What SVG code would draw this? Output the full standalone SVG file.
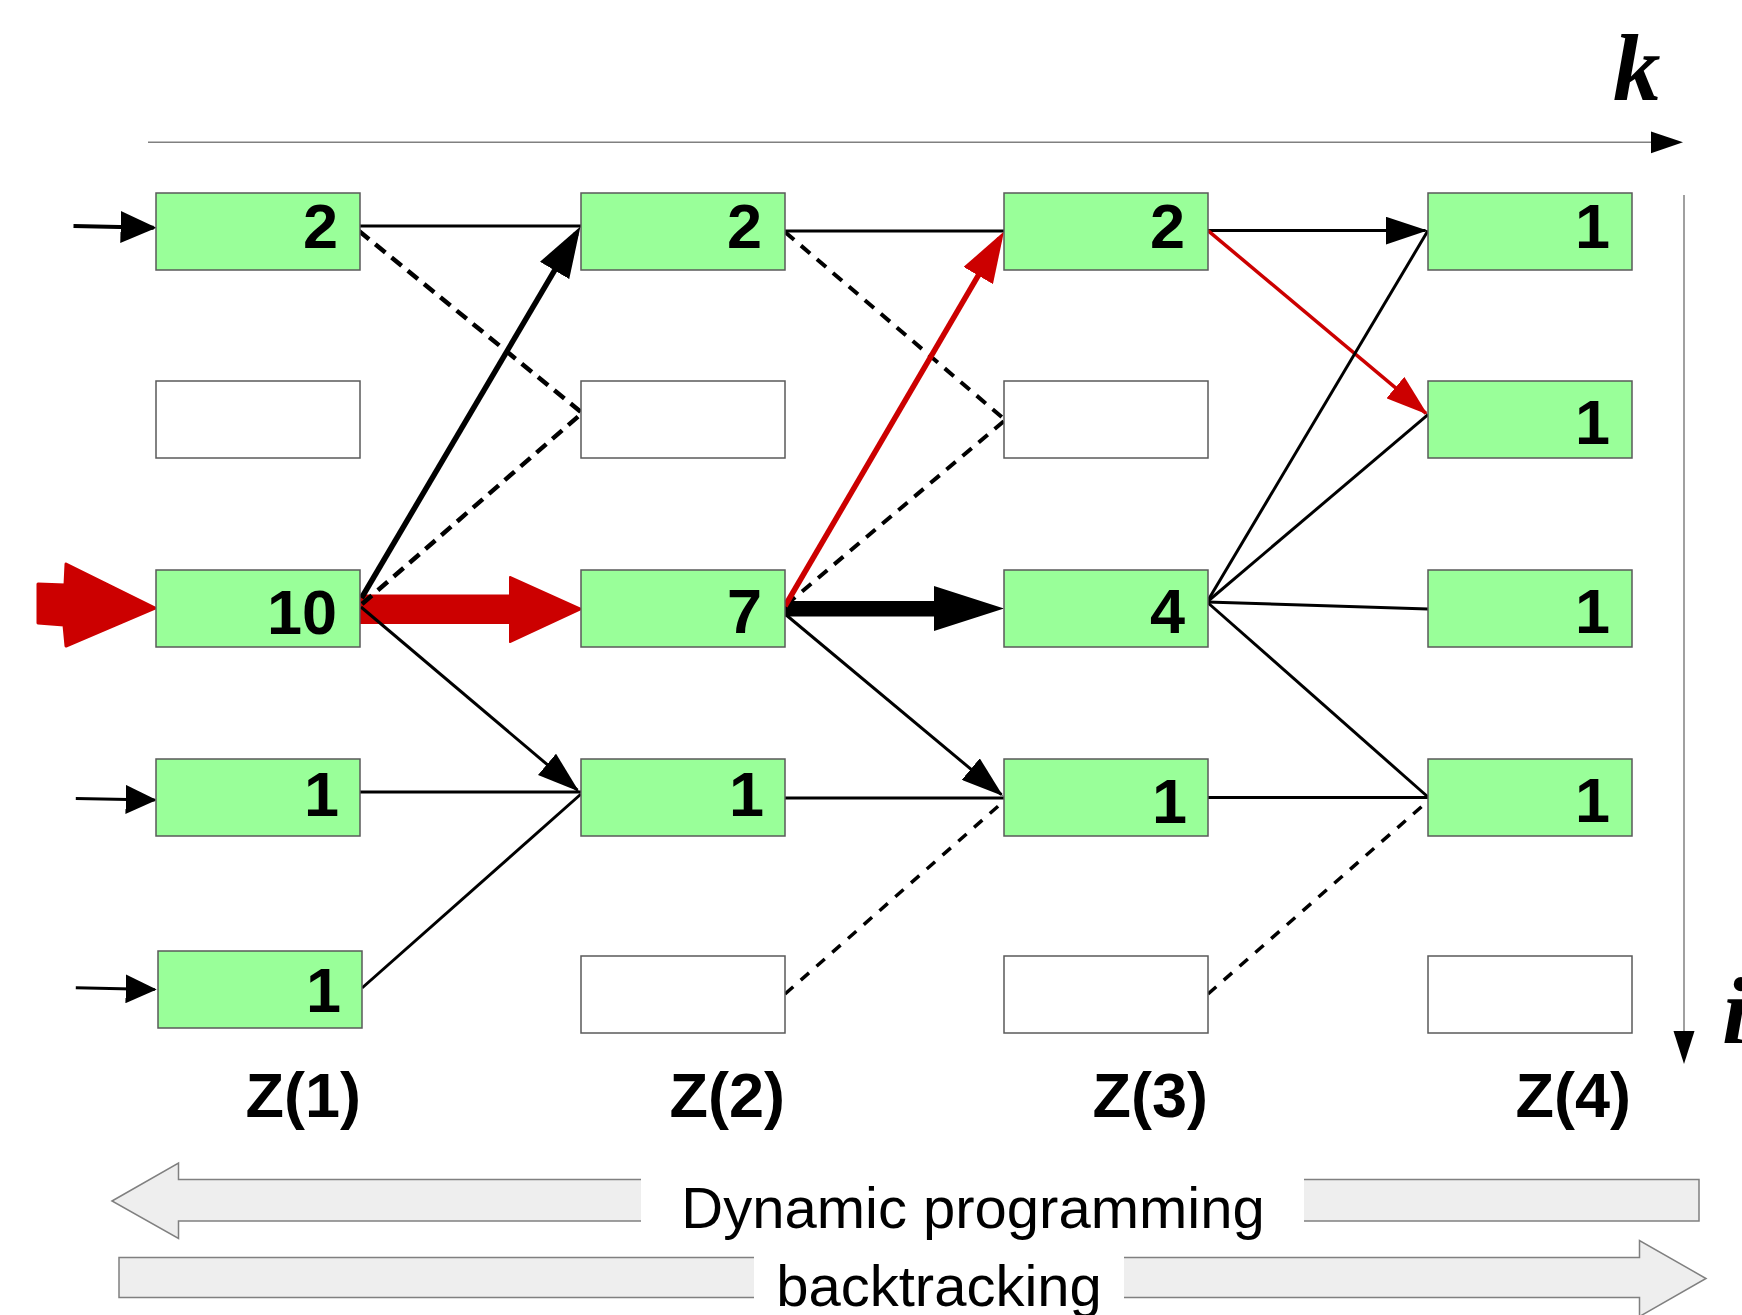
<svg xmlns="http://www.w3.org/2000/svg" width="1742" height="1315" viewBox="0 0 1742 1315">
<style>
.box{stroke:#5a5a5a;stroke-width:1.5}
.on{fill:#99ff99}
.off{fill:#ffffff}
.num{font-family:"Liberation Sans",Arial,sans-serif;font-weight:bold;font-size:63px;fill:#000;text-anchor:end}
.zl{font-family:"Liberation Sans",Arial,sans-serif;font-weight:bold;font-size:63px;fill:#000;text-anchor:end}
.ax{font-family:"Liberation Serif","Times New Roman",serif;font-weight:bold;font-style:italic;font-size:95px;fill:#000}
.lbl{font-family:"Liberation Sans",Arial,sans-serif;font-size:58px;fill:#000;text-anchor:middle}
.s{stroke:#000;stroke-width:3;fill:none}
.sr{stroke:#cc0000;stroke-width:3.5;fill:none}
.t{stroke:#000;stroke-width:5.5;fill:none}
.tr{stroke:#cc0000;stroke-width:5.5;fill:none}
.d{stroke:#000;stroke-width:4.5;fill:none;stroke-dasharray:13 8}
.d2{stroke:#000;stroke-width:4;fill:none;stroke-dasharray:12 9}
.d3{stroke:#000;stroke-width:3.5;fill:none;stroke-dasharray:11 10}
.axis{stroke:#808080;stroke-width:1.5;fill:none}
.blk{fill:#eeeeee;stroke:#808080;stroke-width:1.5}
</style>
<defs>
<marker id="a" markerUnits="userSpaceOnUse" markerWidth="42" markerHeight="28" refX="40" refY="14" orient="auto"><path d="M0,0 L42,14 L0,28 z" fill="#000"/></marker>
<marker id="ar" markerUnits="userSpaceOnUse" markerWidth="42" markerHeight="28" refX="40" refY="14" orient="auto"><path d="M0,0 L42,14 L0,28 z" fill="#cc0000"/></marker>
<marker id="at" markerUnits="userSpaceOnUse" markerWidth="51" markerHeight="34" refX="43" refY="17" orient="auto"><path d="M0,0 L51,17 L0,34 z" fill="#000"/></marker>
<marker id="atr" markerUnits="userSpaceOnUse" markerWidth="51" markerHeight="34" refX="43" refY="17" orient="auto"><path d="M0,0 L51,17 L0,34 z" fill="#cc0000"/></marker>
<marker id="e1" markerUnits="userSpaceOnUse" markerWidth="36" markerHeight="32" refX="33" refY="16" orient="auto"><path d="M0,0 L36,16 L0,32 z" fill="#000"/></marker>
<marker id="e2" markerUnits="userSpaceOnUse" markerWidth="31" markerHeight="29" refX="29" refY="14.5" orient="auto"><path d="M0,0 L31,14.5 L0,29 z" fill="#000"/></marker>
</defs>
<rect width="1742" height="1315" fill="#ffffff"/>

<g id="axes">
<line class="axis" x1="148" y1="142.3" x2="1652" y2="142.3"/>
<polygon points="1651,131.5 1683,142.3 1651,153.3" fill="#000"/>
<text class="ax" x="1613" y="100">k</text>
<line class="axis" x1="1684" y1="195" x2="1684" y2="1032"/>
<polygon points="1673.5,1031 1694.5,1031 1684,1064" fill="#000"/>
<text class="ax" x="1722" y="1043">i</text>
</g>

<g id="big-arrows">
<polygon points="38,584 65,585 66,564 155,608 66,646 64,625 38,623" fill="#cc0000" stroke="#cc0000" stroke-width="3" stroke-linejoin="round"/>
<polygon points="359,595.5 510,595.5 510,577 581,609 510,642 510,623 359,623" fill="#cc0000" stroke="#cc0000" stroke-width="2" stroke-linejoin="round"/>
<polygon points="785,601 934,601 934,586 1004,608.5 934,631 934,616.5 785,616.5" fill="#000"/>
</g>

<g id="connectors">
<line x1="73.5" y1="226" x2="153.6" y2="227.7" stroke="#000" stroke-width="4" marker-end="url(#e1)"/>
<line x1="75.8" y1="798.4" x2="154.7" y2="800" stroke="#000" stroke-width="3" marker-end="url(#e2)"/>
<line x1="75.8" y1="987.8" x2="154.7" y2="989.5" stroke="#000" stroke-width="3" marker-end="url(#e2)"/>

<line class="s" x1="359" y1="226" x2="581" y2="226"/>
<line class="d" x1="359" y1="231" x2="581" y2="412"/>
<line class="d" x1="362" y1="604" x2="581" y2="414"/>
<line class="t" x1="361.5" y1="598" x2="576.4" y2="233.4" marker-end="url(#at)"/>
<line class="s" x1="361" y1="607" x2="577.5" y2="790.2" marker-end="url(#a)"/>
<line class="s" x1="359" y1="792" x2="581" y2="792"/>
<line class="s" x1="362" y1="988" x2="581" y2="794"/>

<line class="s" x1="785" y1="231" x2="1004" y2="231"/>
<line class="d2" x1="785" y1="232" x2="1004" y2="419"/>
<line class="d2" x1="786" y1="605" x2="1004" y2="421"/>
<line class="tr" x1="785" y1="606" x2="999.96" y2="238.4" marker-end="url(#atr)"/>
<line class="s" x1="785" y1="614" x2="1001.5" y2="794.7" marker-end="url(#a)"/>
<line class="s" x1="785" y1="798" x2="1004" y2="798"/>
<line class="d3" x1="785" y1="994" x2="1004" y2="801"/>

<line class="s" x1="1208" y1="230.6" x2="1425.5" y2="230.6" marker-end="url(#a)"/>
<line class="sr" x1="1208" y1="230.6" x2="1426" y2="413.3" marker-end="url(#ar)"/>
<line class="s" x1="1207" y1="602" x2="1428" y2="230.6"/>
<line class="s" x1="1207" y1="602" x2="1428" y2="414.6"/>
<line class="s" x1="1207" y1="602" x2="1428" y2="609"/>
<line class="s" x1="1207" y1="602" x2="1428" y2="797"/>
<line class="s" x1="1208" y1="797.5" x2="1428" y2="797.5"/>
<line class="d3" x1="1208" y1="994" x2="1428" y2="801"/>
</g>

<g id="n11"><rect class="box on" x="156" y="193" width="204" height="77"/><text class="num" x="338" y="248">2</text></g>
<g id="n12"><rect class="box off" x="156" y="381" width="204" height="77"/></g>
<g id="n13"><rect class="box on" x="156" y="570" width="204" height="77"/><text class="num" x="337" y="634">10</text></g>
<g id="n14"><rect class="box on" x="156" y="759" width="204" height="77"/><text class="num" x="339" y="816">1</text></g>
<g id="n15"><rect class="box on" x="158" y="951" width="204" height="77"/><text class="num" x="341" y="1012">1</text></g>

<g id="n21"><rect class="box on" x="581" y="193" width="204" height="77"/><text class="num" x="762" y="248">2</text></g>
<g id="n22"><rect class="box off" x="581" y="381" width="204" height="77"/></g>
<g id="n23"><rect class="box on" x="581" y="570" width="204" height="77"/><text class="num" x="762" y="633">7</text></g>
<g id="n24"><rect class="box on" x="581" y="759" width="204" height="77"/><text class="num" x="764" y="816">1</text></g>
<g id="n25"><rect class="box off" x="581" y="956" width="204" height="77"/></g>

<g id="n31"><rect class="box on" x="1004" y="193" width="204" height="77"/><text class="num" x="1185" y="248">2</text></g>
<g id="n32"><rect class="box off" x="1004" y="381" width="204" height="77"/></g>
<g id="n33"><rect class="box on" x="1004" y="570" width="204" height="77"/><text class="num" x="1185" y="633">4</text></g>
<g id="n34"><rect class="box on" x="1004" y="759" width="204" height="77"/><text class="num" x="1187" y="823">1</text></g>
<g id="n35"><rect class="box off" x="1004" y="956" width="204" height="77"/></g>

<g id="n41"><rect class="box on" x="1428" y="193" width="204" height="77"/><text class="num" x="1610" y="248">1</text></g>
<g id="n42"><rect class="box on" x="1428" y="381" width="204" height="77"/><text class="num" x="1610" y="444">1</text></g>
<g id="n43"><rect class="box on" x="1428" y="570" width="204" height="77"/><text class="num" x="1610" y="633">1</text></g>
<g id="n44"><rect class="box on" x="1428" y="759" width="204" height="77"/><text class="num" x="1610" y="822">1</text></g>
<g id="n45"><rect class="box off" x="1428" y="956" width="204" height="77"/></g>

<g id="z-labels">
<text class="zl" x="361" y="1117">Z(1)</text>
<text class="zl" x="785" y="1117">Z(2)</text>
<text class="zl" x="1208" y="1117">Z(3)</text>
<text class="zl" x="1631" y="1117">Z(4)</text>
</g>

<g id="dp-arrow">
<polygon class="blk" points="112,1201 178.5,1163 178.5,1179.5 1699,1179.5 1699,1221 178.5,1221 178.5,1238.5"/>
<rect x="641" y="1174" width="663" height="53" fill="#ffffff"/>
<text class="lbl" x="973" y="1228">Dynamic programming</text>
</g>
<g id="bt-arrow">
<polygon class="blk" points="119,1257.5 1639.5,1257.5 1639.5,1240.5 1706,1278.5 1639.5,1316.5 1639.5,1297.5 119,1297.5"/>
<rect x="754" y="1252" width="370" height="52" fill="#ffffff"/>
<text class="lbl" x="939" y="1306">backtracking</text>
</g>
</svg>
